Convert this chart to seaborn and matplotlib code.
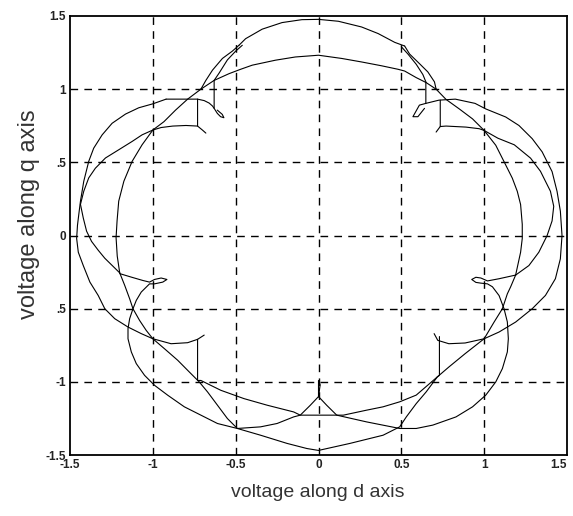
import matplotlib
matplotlib.use("Agg")
import matplotlib.pyplot as plt
import seaborn as sns
import pandas as pd

# d-q voltage trajectory

# top outer arc
top_outer_x = [-0.48, -0.44, -0.34, -0.22, -0.10, 0.0, 0.12, 0.26, 0.36, 0.46, 0.52]
top_outer_y = [1.30, 1.345, 1.41, 1.455, 1.475, 1.477, 1.464, 1.425, 1.38, 1.32, 1.295]

# second (inner) top arc, between the two upper cusps
top_inner_x = [-0.71, -0.63, -0.54, -0.47, -0.40, -0.26, -0.14, 0.0, 0.14, 0.26, 0.38, 0.48, 0.52, 0.59, 0.65, 0.71]
top_inner_y = [1.0, 1.06, 1.106, 1.136, 1.164, 1.198, 1.22, 1.232, 1.21, 1.186, 1.16, 1.136, 1.124, 1.079, 1.045, 1.0]

# thin lenses joining the outer arc to the upper crossings
lens_la_x = [-0.48, -0.52, -0.58, -0.64, -0.68, -0.71]
lens_la_y = [1.30, 1.26, 1.21, 1.13, 1.06, 1.0]
lens_lb_x = [-0.46, -0.50, -0.55, -0.60, -0.63]
lens_lb_y = [1.30, 1.26, 1.20, 1.11, 1.06]
lens_ra_x = [0.52, 0.55, 0.61, 0.66, 0.70, 0.71]
lens_ra_y = [1.295, 1.24, 1.174, 1.118, 1.05, 1.0]
lens_rb_x = [0.50, 0.54, 0.59, 0.63, 0.65]
lens_rb_y = [1.29, 1.24, 1.17, 1.10, 1.045]

# arcs going down from the upper crossings
arc_a_left_x = [-0.71, -0.79, -0.863, -0.933, -1.0, -1.065, -1.125, -1.175, -1.206, -1.216, -1.222, -1.215, -1.2]
arc_a_left_y = [1.0, 0.932, 0.857, 0.778, 0.721, 0.62, 0.507, 0.371, 0.235, 0.10, -0.014, -0.14, -0.255]
arc_a_right_x = [0.71, 0.77, 0.85, 0.93, 1.0, 1.07, 1.12, 1.17, 1.2, 1.22, 1.23, 1.23, 1.22, 1.19]
arc_a_right_y = [1.0, 0.93, 0.865, 0.797, 0.718, 0.617, 0.505, 0.392, 0.302, 0.212, 0.077, -0.02, -0.114, -0.27]

# upper-left cusps
cusp_ul_x = [-0.63, -0.63, -0.611, -0.591, -0.571, -0.581, -0.611]
cusp_ul_y = [1.06, 0.869, 0.835, 0.812, 0.805, 0.828, 0.857]
h1_left_x = [-0.92, -0.85, -0.78, -0.73, -0.69, -0.66, -0.64, -0.63]
h1_left_y = [0.932, 0.932, 0.932, 0.932, 0.922, 0.905, 0.885, 0.869]
v2_left_x = [-0.68, -0.70, -0.73, -0.73, -0.73]
v2_left_y = [0.70, 0.72, 0.748, 0.84, 0.932]

# outer left arc, continuing round the lower left to its cusp
outer_left_x = [-0.92, -1.0, -1.085, -1.165, -1.246, -1.306, -1.357, -1.387, -1.417, -1.437, -1.447,
                -1.455, -1.46, -1.45, -1.42, -1.38, -1.33, -1.29, -1.23, -1.15, -1.07, -1.0,
                -0.89, -0.79, -0.73, -0.69]
outer_left_y = [0.932, 0.90, 0.873, 0.83, 0.767, 0.688, 0.597, 0.507, 0.371, 0.235, 0.145,
                0.07, -0.02, -0.114, -0.205, -0.318, -0.409, -0.5, -0.568, -0.625, -0.67, -0.705,
                -0.739, -0.732, -0.709, -0.68]

# second left arc, from the lower upper-left cusp down to the left junction
mid_left_x = [-0.73, -0.80, -0.88, -0.95, -1.0, -1.065, -1.125, -1.206, -1.286, -1.347, -1.387,
              -1.417, -1.437, -1.42, -1.40, -1.37, -1.33, -1.29, -1.2]
mid_left_y = [0.748, 0.752, 0.748, 0.738, 0.721, 0.688, 0.643, 0.586, 0.53, 0.46, 0.394,
              0.303, 0.213, 0.12, 0.03, -0.04, -0.10, -0.155, -0.255]

# left loop and the inner lower arc, through the bottom cusp, to the right loop
inner_low_x = [-1.2, -1.13, -1.06, -1.02, -0.99, -0.95, -0.915, -0.94, -0.99, -1.02, -1.07, -1.10,
               -1.12, -1.14, -1.15, -1.15, -1.13, -1.10, -1.05, -0.99, -0.91, -0.81, -0.71, -0.61,
               -0.49, -0.35, -0.25, -0.15, -0.11, -0.05, 0.0, 0.0, 0.01, 0.0, 0.05, 0.11, 0.29,
               0.49, 0.59, 0.69, 0.83, 0.93, 1.01, 1.07, 1.11, 1.14, 1.146, 1.14, 1.12, 1.09, 1.05,
               1.02, 0.98, 0.95, 0.925, 0.95, 0.98, 1.02, 1.09, 1.19]
inner_low_y = [-0.26, -0.284, -0.307, -0.318, -0.30, -0.29, -0.30, -0.318, -0.33, -0.33, -0.386, -0.443,
               -0.5, -0.568, -0.636, -0.705, -0.795, -0.875, -0.955, -1.023, -1.091, -1.17, -1.227, -1.284,
               -1.318, -1.307, -1.284, -1.239, -1.227, -1.16, -1.10, -0.99, -1.02, -1.10, -1.16, -1.227, -1.273,
               -1.318, -1.318, -1.295, -1.239, -1.17, -1.09, -1.0, -0.909, -0.795, -0.705, -0.59, -0.5, -0.41, -0.35,
               -0.33, -0.325, -0.32, -0.30, -0.285, -0.29, -0.31, -0.295, -0.27]

# outer lower arc from the left junction to the right junction
outer_low_x = [-1.2, -1.17, -1.14, -1.12, -1.08, -1.04, -1.0, -0.93, -0.85, -0.78, -0.72, -0.67, -0.61,
               -0.55, -0.49, -0.35, -0.19, -0.07, 0.0, 0.19, 0.39, 0.49, 0.53, 0.59, 0.65, 0.717, 0.787,
               0.885, 1.0, 1.06, 1.11, 1.14, 1.16, 1.19]
outer_low_y = [-0.255, -0.34, -0.432, -0.5, -0.58, -0.648, -0.705, -0.773, -0.852, -0.932, -1.0, -1.068, -1.159,
               -1.25, -1.318, -1.364, -1.42, -1.455, -1.468, -1.42, -1.364, -1.307, -1.239, -1.148, -1.068, -0.966, -0.898,
               -0.807, -0.705, -0.591, -0.5, -0.398, -0.35, -0.27]

# chord under the bottom cusp with the two lower cusps
chord_x = [-0.73, -0.73, -0.71, -0.59, -0.45, -0.31, -0.15, -0.11, 0.11, 0.15, 0.29, 0.39, 0.49, 0.59, 0.717, 0.73, 0.73]
chord_y = [-0.709, -0.99, -0.99, -1.057, -1.114, -1.159, -1.205, -1.227, -1.227, -1.227, -1.193, -1.17, -1.136, -1.09, -0.966, -0.955, -0.69]

# upper-right cusps
cusp_ur_x = [0.648, 0.648, 0.609, 0.57, 0.60, 0.64]
cusp_ur_y = [1.045, 0.903, 0.891, 0.812, 0.812, 0.869]
v2_right_x = [0.71, 0.735, 0.735]
v2_right_y = [0.707, 0.745, 0.925]

# outer right arc, round to the lower-right cusp
outer_right_x = [0.648, 0.727, 0.826, 0.945, 1.01, 1.13, 1.21, 1.29, 1.35, 1.41, 1.44, 1.46, 1.47,
                 1.46, 1.43, 1.37, 1.29, 1.19, 1.09, 1.0, 0.885, 0.787, 0.72, 0.698]
outer_right_y = [0.903, 0.925, 0.932, 0.903, 0.865, 0.81, 0.752, 0.662, 0.572, 0.437, 0.302, 0.167, 0.0,
                 -0.159, -0.295, -0.409, -0.5, -0.591, -0.659, -0.705, -0.734, -0.739, -0.716, -0.67]

# second right arc, down to the right junction
mid_right_x = [0.735, 0.77, 0.89, 0.97, 1.0, 1.083, 1.182, 1.28, 1.34, 1.40, 1.42, 1.41, 1.38, 1.33, 1.27, 1.19]
mid_right_y = [0.745, 0.748, 0.741, 0.73, 0.718, 0.665, 0.62, 0.529, 0.439, 0.303, 0.2, 0.1, 0.0, -0.114, -0.205, -0.27]

segments = [
    (top_outer_x, top_outer_y), (top_inner_x, top_inner_y),
    (lens_la_x, lens_la_y), (lens_lb_x, lens_lb_y), (lens_ra_x, lens_ra_y), (lens_rb_x, lens_rb_y),
    (arc_a_left_x, arc_a_left_y), (arc_a_right_x, arc_a_right_y),
    (cusp_ul_x, cusp_ul_y), (h1_left_x, h1_left_y), (v2_left_x, v2_left_y),
    (outer_left_x, outer_left_y), (mid_left_x, mid_left_y),
    (inner_low_x, inner_low_y), (outer_low_x, outer_low_y), (chord_x, chord_y),
    (cusp_ur_x, cusp_ur_y), (v2_right_x, v2_right_y),
    (outer_right_x, outer_right_y), (mid_right_x, mid_right_y),
]

ticks = [-1.5, -1, -0.5, 0, 0.5, 1, 1.5]
x_tick_labels = ["-1.5", "-1", "-0.5", "0", "0.5", "1", "1.5"]
y_tick_labels = ["-1.5", "-1", ".5", "0", ".5", "1", "1.5"]

sns.set_style("white")
plt.rcParams["font.family"] = ["Liberation Sans", "DejaVu Sans"]

fig = plt.figure(figsize=(5.73, 5.16), dpi=100)
ax = fig.add_axes([0.1222, 0.118, 0.8673, 0.851])

for sx, sy in segments:
    df = pd.DataFrame({"d": sx, "q": sy})
    sns.lineplot(data=df, x="d", y="q", sort=False, estimator=None,
                 color="black", linewidth=0.8, ax=ax)

# dashed grid
for g in [-1, -0.5, 0, 0.5, 1]:
    ax.axvline(g, color="black", linewidth=1.0, linestyle=(0, (5.5, 4.5)), zorder=0)
    ax.axhline(g, color="black", linewidth=1.0, linestyle=(0, (5.5, 4.5)), zorder=0)

ax.set_xlim(-1.5, 1.5)
ax.set_ylim(-1.5, 1.5)
ax.set_xticks(ticks)
ax.set_yticks(ticks)
ax.set_xticklabels(x_tick_labels, fontsize=8.5, fontweight="bold", color="#222222")
ax.set_yticklabels(y_tick_labels, fontsize=8.5, fontweight="bold", color="#222222")
# last d tick label sits against the right border as in the picture
ax.get_xticklabels()[-1].set_horizontalalignment("right")
ax.get_xticklabels()[-1].set_x(1.5)
ax.tick_params(direction="in", length=3, width=0.8, color="black", pad=3)
for sp in ax.spines.values():
    sp.set_color("black")
    sp.set_linewidth(1.3)

ax.set_xlabel("")
ax.set_ylabel("")
fig.text(0.555, 0.045, "voltage along d axis", ha="center", va="center", fontsize=14, color="#333333")
fig.text(0.05, 0.585, "voltage along q axis", ha="center", va="center", rotation=90,
         fontsize=17, color="#333333")

fig.savefig("out.png", dpi=100)
